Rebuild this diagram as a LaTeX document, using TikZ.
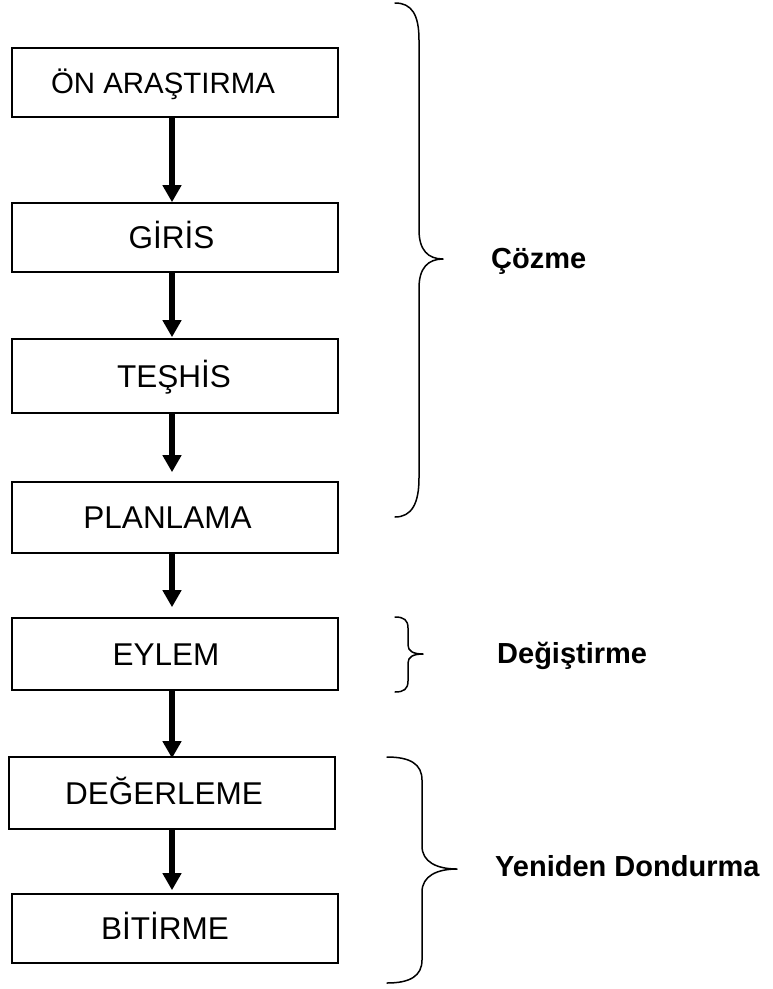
\documentclass[tikz,border=0pt]{standalone}
\usepackage{fontspec}
\setmainfont{Liberation Sans}
\usetikzlibrary{arrows.meta}

\begin{document}
\begin{tikzpicture}[x=1pt,y=-1pt,
  stagebox/.style={draw=black, line width=1.6pt, fill=white,
    minimum width=326pt, inner sep=0pt,
    text height=22.5pt, text depth=0pt,
    font=\fontsize{31.5}{36}\selectfont},
  flow/.style={line width=6pt, -{Triangle[width=18pt,length=17pt]}},
  brace/.style={line width=1.5pt, line cap=round, line join=round},
  phase/.style={anchor=base west, inner sep=0pt,
    font=\fontsize{29}{34}\selectfont\bfseries}]

  \useasboundingbox (0,0) rectangle (772,989);

  % process stages (text sits a little left of each box centre)
  \node[stagebox, minimum height=69pt, text height=21pt,
        font=\fontsize{29.4}{34}\selectfont] (b1) at (175,82.5) {\hspace*{-24pt}ÖN ARAŞTIRMA};
  \node[stagebox, minimum height=69pt] (b2) at (175,237.5) {\hspace*{-7pt}GİRİS};
  \node[stagebox, minimum height=74pt] (b3) at (175,376)   {\hspace*{-2pt}TEŞHİS};
  \node[stagebox, minimum height=71pt] (b4) at (175,517.5) {\hspace*{-15pt}PLANLAMA};
  \node[stagebox, minimum height=72pt] (b5) at (175,654)   {\hspace*{-18pt}EYLEM};
  \node[stagebox, minimum height=72pt] (b6) at (172,793)   {\hspace*{-16pt}DEĞERLEME};
  \node[stagebox, minimum height=69pt] (b7) at (175,928.5) {\hspace*{-20pt}BİTİRME};

  % arrows between consecutive stages
  \coordinate (ax) at (172,0);
  \draw[flow] (b1.south -| ax) -- (b2.north -| ax);
  \draw[flow, shorten >=1pt]  (b2.south -| ax) -- (b3.north -| ax);
  \draw[flow, shorten >=9pt]  (b3.south -| ax) -- (b4.north -| ax);
  \draw[flow, shorten >=10pt] (b4.south -| ax) -- (b5.north -| ax);
  \draw[flow, shorten >=-2pt] (b5.south -| ax) -- (b6.north -| ax);
  \draw[flow, shorten >=3pt]  (b6.south -| ax) -- (b7.north -| ax);

  % braces grouping the stages
  \draw[brace] (395,3) .. controls (412,3) and (419,15) .. (419,40)
    -- (419,230) .. controls (419,250) and (428,259) .. (443,259)
    .. controls (428,259) and (419,268) .. (419,288)
    -- (419,478) .. controls (419,503) and (412,517) .. (395,517);

  \draw[brace] (395,617) .. controls (404,617) and (408,620) .. (408,628)
    -- (408,645) .. controls (408,651) and (413,654) .. (423,654)
    .. controls (413,654) and (408,657) .. (408,663)
    -- (408,681) .. controls (408,689) and (404,692) .. (395,692);

  \draw[brace] (387,757) .. controls (410,757) and (422,764) .. (422,780)
    -- (422,846) .. controls (422,862) and (437,869) .. (457,869)
    .. controls (437,869) and (422,876) .. (422,892)
    -- (422,960) .. controls (422,976) and (410,983) .. (387,983);

  % phase names
  \node[phase] (p1) at (491,268) {Çözme};
  \node[phase] (p2) at (497,663) {Değiştirme};
  \node[phase] (p3) at (495,876) {Yeniden Dondurma};
\end{tikzpicture}
\end{document}
